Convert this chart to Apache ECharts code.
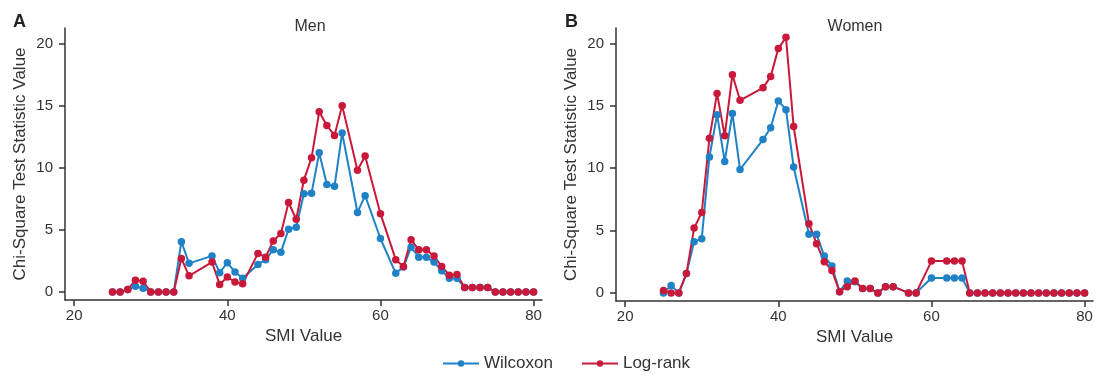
<!DOCTYPE html>
<html>
<head>
<meta charset="utf-8">
<script src="https://cdn.jsdelivr.net/npm/echarts@6/dist/echarts.min.js"></script>
<style>
  html, body { margin: 0; padding: 0; background: #fff; }
  #chart { width: 1106px; height: 378px; }
</style>
</head>
<body>
<div id="chart"></div>
<script>
// SMI cut-points tested (same set for both panels)
const smiValues = [
  25, 26, 27, 28, 29, 30, 31, 32, 33, 34, 35,
  38, 39, 40, 41, 42,
  44, 45, 46, 47, 48, 49, 50, 51, 52, 53, 54, 55,
  57, 58,
  60,
  62, 63, 64, 65, 66, 67, 68, 69, 70, 71, 72, 73, 74, 75, 76, 77, 78, 79, 80
]

const menWilcoxon = [
  0, 0, 0.2, 0.45, 0.3, 0, 0, 0, 0, 4.05, 2.3,
  2.9, 1.55, 2.35, 1.6, 1.1,
  2.2, 2.6, 3.4, 3.2, 5.05, 5.2, 7.9, 7.95, 11.2, 8.65, 8.5, 12.8,
  6.4, 7.75,
  4.3,
  1.5, 2.0, 3.6, 2.8, 2.8, 2.4, 1.7, 1.1, 1.1, 0.35, 0.35, 0.35, 0.35, 0, 0, 0, 0, 0, 0
]

const menLogRank = [
  0, 0, 0.2, 0.95, 0.85, 0, 0, 0, 0, 2.7, 1.3,
  2.4, 0.6, 1.2, 0.8, 0.65,
  3.1, 2.8, 4.1, 4.7, 7.2, 5.85, 9.0, 10.8, 14.5, 13.4, 12.6, 15.0,
  9.8, 10.95,
  6.3,
  2.6, 2.05, 4.2, 3.4, 3.4, 2.9, 2.05, 1.35, 1.4, 0.35, 0.35, 0.35, 0.35, 0, 0, 0, 0, 0, 0
]

const womenWilcoxon = [
  0, 0.6, 0, 1.55, 4.1, 4.35, 10.9, 14.3, 10.55, 14.4, 9.9,
  12.3, 13.25, 15.4, 14.7, 10.1,
  4.7, 4.7, 2.95, 2.15, 0.1, 0.95, 0.9, 0.35, 0.35, 0, 0.5, 0.5,
  0, 0,
  1.2,
  1.2, 1.2, 1.2, 0, 0, 0, 0, 0, 0, 0, 0, 0, 0, 0, 0, 0, 0, 0, 0
]

const womenLogRank = [
  0.2, 0, 0, 1.55, 5.2, 6.45, 12.4, 16.0, 12.6, 17.5, 15.45,
  16.45, 17.35, 19.6, 20.5, 13.35,
  5.55, 3.95, 2.5, 1.8, 0.1, 0.5, 0.95, 0.35, 0.35, 0, 0.5, 0.5,
  0, 0,
  2.55,
  2.55, 2.55, 2.55, 0, 0, 0, 0, 0, 0, 0, 0, 0, 0, 0, 0, 0, 0, 0, 0
]

const xTicks = [20, 40, 60, 80]
const yTicks = [0, 5, 10, 15, 20]

const BLUE = "#1f82c6"
const RED = "#c9183a"
const AXIS = "#333333"
const FONT = "Liberation Sans, Arial, sans-serif"

const pairs = (ys) => smiValues.map((x, i) => [x, ys[i]])

function xAxisFor(gridIndex) {
  return {
    type: "value",
    gridIndex,
    min: 18.8,
    max: 81.1,
    name: "SMI Value",
    nameLocation: "middle",
    nameGap: 26,
    nameTextStyle: { color: AXIS, fontSize: 17, fontFamily: FONT },
    axisLine: { show: true, onZero: false, lineStyle: { color: AXIS, width: 1.5 } },
    axisTick: { show: true, length: 6, customValues: xTicks, lineStyle: { color: AXIS, width: 1.5 } },
    axisLabel: { customValues: xTicks, color: AXIS, fontSize: 15, fontFamily: FONT, margin: 8 },
    splitLine: { show: false },
  }
}

function yAxisFor(gridIndex) {
  return {
    type: "value",
    gridIndex,
    min: -0.65,
    max: 21.25,
    name: "Chi-Square Test Statistic Value",
    nameLocation: "middle",
    nameGap: 36,
    nameTextStyle: { color: AXIS, fontSize: 17, fontFamily: FONT },
    axisLine: { show: true, lineStyle: { color: AXIS, width: 1.5 } },
    axisTick: { show: true, length: 6, customValues: yTicks, lineStyle: { color: AXIS, width: 1.5 } },
    axisLabel: { customValues: yTicks, color: AXIS, fontSize: 15, fontFamily: FONT, margin: 12 },
    splitLine: { show: false },
  }
}

function lineSeries(name, color, data, idx) {
  return {
    name,
    type: "line",
    xAxisIndex: idx,
    yAxisIndex: idx,
    data,
    symbol: "circle",
    symbolSize: 7.5,
    showSymbol: true,
    lineStyle: { color, width: 2 },
    itemStyle: { color },
    animation: false,
  }
}

const chart = echarts.init(document.getElementById("chart"), undefined, { renderer: "canvas" })

chart.setOption({
  backgroundColor: "#ffffff",
  animation: false,
  textStyle: { fontFamily: FONT },
  title: [
    { text: "A", left: 8, top: 8, textStyle: { fontSize: 18, fontWeight: "bold", color: "#222", fontFamily: FONT } },
    { text: "B", left: 560, top: 8, textStyle: { fontSize: 18, fontWeight: "bold", color: "#222", fontFamily: FONT } },
    { text: "Men", left: 305, top: 14, textAlign: "center", textStyle: { fontSize: 16, fontWeight: "normal", color: AXIS, fontFamily: FONT } },
    { text: "Women", left: 850, top: 14, textAlign: "center", textStyle: { fontSize: 16, fontWeight: "normal", color: AXIS, fontFamily: FONT } },
  ],
  legend: {
    data: ["Wilcoxon", "Log-rank"],
    left: 437,
    top: 350,
    itemWidth: 36,
    itemHeight: 8,
    itemGap: 28,
    textStyle: { color: AXIS, fontSize: 17, fontFamily: FONT },
  },
  grid: [
    { left: 65, top: 28, width: 477, height: 272 },
    { left: 616, top: 28, width: 477, height: 273 },
  ],
  xAxis: [xAxisFor(0), xAxisFor(1)],
  yAxis: [yAxisFor(0), yAxisFor(1)],
  series: [
    lineSeries("Wilcoxon", BLUE, pairs(menWilcoxon), 0),
    lineSeries("Log-rank", RED, pairs(menLogRank), 0),
    lineSeries("Wilcoxon", BLUE, pairs(womenWilcoxon), 1),
    lineSeries("Log-rank", RED, pairs(womenLogRank), 1),
  ],
})
</script>
</body>
</html>
